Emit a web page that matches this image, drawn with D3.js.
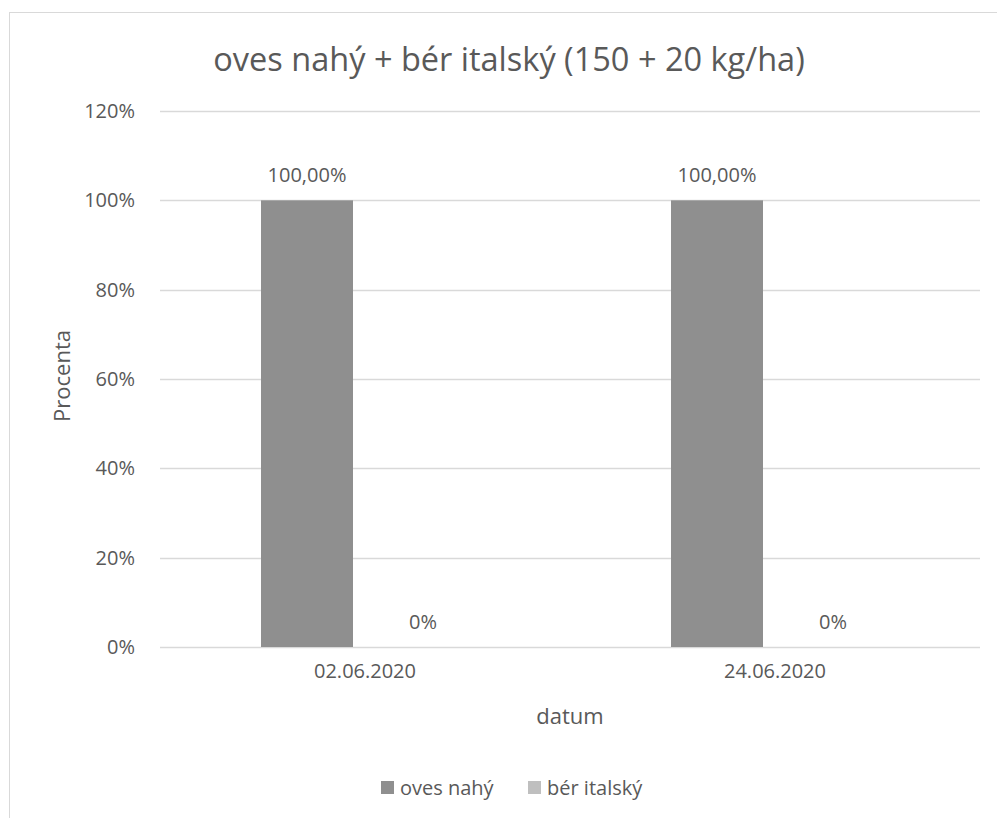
<!DOCTYPE html>
<html>
<head>
<meta charset="utf-8">
<script src="https://cdn.jsdelivr.net/npm/d3@7"></script>
<style>
  html, body { margin: 0; padding: 0; background: #fff; }
  svg { display: block; }
  text { font-family: "Open Sans", "Noto Sans", sans-serif; fill: #595959; }
</style>
</head>
<body>
<svg id="chart" width="997" height="818"></svg>
<script>
// Chart data
const categories = ["02.06.2020", "24.06.2020"];
const seriesNames = ["oves nahý", "bér italský"];
const ovesNahy = [1.0, 1.0];
const berItalsky = [0.0, 0.0];
const labelsOves = ["100,00%", "100,00%"];
const labelsBer = ["0%", "0%"];
const yTicks = [0, 0.2, 0.4, 0.6, 0.8, 1.0, 1.2];
const colors = ["#8f8f8f", "#bfbfbf"];

const seriesValues = [ovesNahy, berItalsky];
const seriesLabels = [labelsOves, labelsBer];

const svg = d3.select("#chart");

// Chart area frame
svg.append("rect")
  .attr("x", 9.5).attr("y", 12.5)
  .attr("width", 1010).attr("height", 830)
  .attr("fill", "#fff").attr("stroke", "#d9d9d9").attr("stroke-width", 1);

const plot = { left: 160, right: 980, top: 111, bottom: 647 };

const y = d3.scaleLinear().domain([0, 1.2]).range([plot.bottom, plot.top]);
const x0 = d3.scaleBand().domain(categories).range([plot.left, plot.right]).padding(0);
const x1 = d3.scaleBand().domain(seriesNames)
  .range([101, 309]).paddingInner(0.207).paddingOuter(0);

// Gridlines
svg.append("g").selectAll("line").data(yTicks).join("line")
  .attr("x1", plot.left).attr("x2", plot.right)
  .attr("y1", d => Math.round(y(d)) + 0.5).attr("y2", d => Math.round(y(d)) + 0.5)
  .attr("stroke", "#d9d9d9").attr("stroke-width", 1.3);

// Y axis tick labels
const yAxis = d3.axisLeft(y).tickValues(yTicks)
  .tickFormat(d => Math.round(d * 100) + "%").tickSize(0).tickPadding(0);
const gy = svg.append("g").attr("transform", `translate(135,0)`).call(yAxis);
gy.select(".domain").remove();
gy.selectAll("text").style("font-size", "20px").attr("fill", "#595959")
  .style("font-family", "'Open Sans', sans-serif");

// X axis tick labels
const xAxis = d3.axisBottom(x0).tickSize(0).tickPadding(0);
const gx = svg.append("g").attr("transform", `translate(0,${plot.bottom + 17})`).call(xAxis);
gx.select(".domain").remove();
gx.selectAll("text").style("font-size", "20px").attr("fill", "#595959")
  .style("font-family", "'Open Sans', sans-serif");

// Bars
const groups = svg.append("g").selectAll("g").data(categories).join("g")
  .attr("transform", d => `translate(${x0(d)},0)`);

groups.selectAll("rect")
  .data((d, i) => seriesNames.map((s, j) => ({ s, v: seriesValues[j][i], j })))
  .join("rect")
  .attr("x", d => x1(d.s))
  .attr("width", x1.bandwidth())
  .attr("y", d => y(d.v))
  .attr("height", d => y(0) - y(d.v))
  .attr("fill", d => colors[d.j]);

// Data labels
groups.selectAll("text.lbl")
  .data((d, i) => seriesNames.map((s, j) => ({ s, v: seriesValues[j][i], t: seriesLabels[j][i] })))
  .join("text")
  .attr("class", "lbl")
  .attr("x", d => x1(d.s) + x1.bandwidth() / 2)
  .attr("y", d => y(d.v) - 18)
  .attr("text-anchor", "middle")
  .style("font-size", "20px")
  .text(d => d.t);

// Title
svg.append("text")
  .attr("x", 509).attr("y", 71)
  .attr("text-anchor", "middle")
  .style("font-size", "32.5px")
  .text("oves nahý + bér italský (150 + 20 kg/ha)");

// Axis titles
svg.append("text")
  .attr("x", (plot.left + plot.right) / 2).attr("y", 724)
  .attr("text-anchor", "middle")
  .style("font-size", "22px")
  .text("datum");

svg.append("text")
  .attr("transform", `translate(70,${(plot.top + plot.bottom) / 2 - 3}) rotate(-90)`)
  .attr("text-anchor", "middle")
  .style("font-size", "22px")
  .text("Procenta");

// Legend
const legendItems = [
  { name: seriesNames[0], color: colors[0], x: 381 },
  { name: seriesNames[1], color: colors[1], x: 528 }
];
const lg = svg.append("g").selectAll("g").data(legendItems).join("g")
  .attr("transform", d => `translate(${d.x},0)`);
lg.append("rect").attr("x", 0).attr("y", 781).attr("width", 13).attr("height", 13)
  .attr("fill", d => d.color);
lg.append("text").attr("x", 19).attr("y", 795)
  .style("font-size", "20px")
  .text(d => d.name);
</script>
</body>
</html>
